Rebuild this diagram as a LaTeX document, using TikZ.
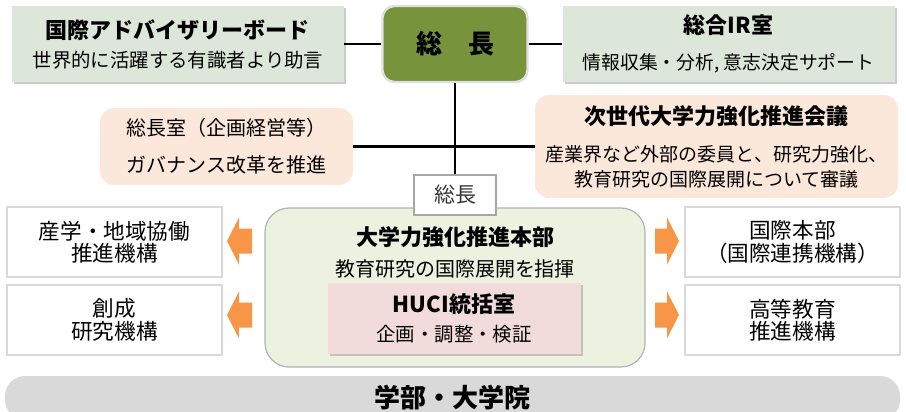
\documentclass[tikz,border=0pt]{standalone}
\usepackage{fontspec}
\setmainfont{Noto Sans CJK JP}
\usetikzlibrary{shadows}

\definecolor{boardgreen}{RGB}{221,231,217}
\definecolor{chiefgreen}{RGB}{119,147,60}
\definecolor{peach}{RGB}{252,232,218}
\definecolor{hqgreen}{RGB}{236,241,224}
\definecolor{hucipink}{RGB}{242,220,219}
\definecolor{arroworange}{RGB}{247,150,70}
\definecolor{bargray}{RGB}{217,217,217}

\newcommand{\boxtitle}[1]{{\bfseries\fontsize{11pt}{11pt}\selectfont #1}}

\tikzset{
  box/.style={inner sep=0pt, align=center, font=\fontsize{9.7pt}{14.5pt}\selectfont},
  boardbox/.style={box, fill=boardgreen, minimum width=166pt, minimum height=38pt,
    drop shadow={shadow xshift=1.2pt, shadow yshift=-1.2pt, opacity=0.4}},
  chiefbox/.style={box, fill=chiefgreen, draw=black!12, line width=1.2pt, rounded corners=6pt,
    minimum width=72.5pt, minimum height=38pt, font=\bfseries\fontsize{13pt}{13pt}\selectfont},
  peachbox/.style={box, fill=peach, rounded corners=7pt},
  hqbox/.style={box, fill=hqgreen, draw=black!30, line width=0.6pt, rounded corners=12pt,
    minimum width=190pt, minimum height=79.5pt},
  tagbox/.style={box, fill=white, draw=black!35, line width=0.6pt, minimum width=41pt,
    minimum height=20pt, font=\fontsize{10.5pt}{10.5pt}\selectfont, text=black!80},
  hucibox/.style={box, fill=hucipink, minimum width=126.5pt, minimum height=35.5pt,
    drop shadow={shadow xshift=1.2pt, shadow yshift=-1.2pt, opacity=0.4}},
  sidebox/.style={box, fill=white, draw=black!15, line width=0.6pt, minimum width=107.5pt,
    minimum height=35pt, font=\fontsize{10.8pt}{11.2pt}\selectfont},
  facultybar/.style={box, fill=bargray, rounded corners=10pt, minimum width=447.5pt,
    minimum height=22pt, font=\bfseries\fontsize{13pt}{13pt}\selectfont},
  link/.style={line width=1.3pt, black},
  blockarrow/.style={fill=arroworange}
}

\begin{document}
\begin{tikzpicture}[x=0.5pt, y=-0.5pt]
  \useasboundingbox (0,0) rectangle (906,412);

  \node[boardbox] (adv) at (178,44) {\boxtitle{国際アドバイザリーボード}\\世界的に活躍する有識者より助言};
  \node[chiefbox] (chief) at (455,44) {総\quad 長};
  \node[boardbox, font=\fontsize{9.4pt}{18pt}\selectfont] (ir) at (728.5,44) {\boxtitle{総合IR室}\\情報収集・分析, 意志決定サポート};

  \node[peachbox, minimum width=126.5pt, minimum height=38.5pt, font=\fontsize{10pt}{18.5pt}\selectfont]
    (office) at (226.5,146.5) {総長室（企画経営等）\\ガバナンス改革を推進};
  \node[peachbox, minimum width=181.5pt, minimum height=51.5pt, font=\fontsize{9.5pt}{12.5pt}\selectfont]
    (council) at (716.5,146.5) {\boxtitle{次世代大学力強化推進会議}\\[6pt]産業界など外部の委員と、研究力強化、\\教育研究の国際展開について審議};

  \node[hqbox] (hq) at (455,287.5) {};
  \node[box, font=\fontsize{10pt}{15.5pt}\selectfont] (hqtext) at (455,252.5) {\boxtitle{大学力強化推進本部}\\教育研究の国際展開を指揮};
  \node[tagbox] (tag) at (455,195) {総長};
  \node[hucibox] (huci) at (454,318) {\boxtitle{HUCI統括室}\\企画・調整・検証};

  \node[sidebox] (coop) at (114.5,242) {産学・地域協働\\推進機構};
  \node[sidebox] (create) at (114.5,320) {創成\\研究機構};
  \node[sidebox] (intl) at (792.5,242) {国際本部\\（国際連携機構）};
  \node[sidebox] (edu) at (792.5,320) {高等教育\\推進機構};

  \node[facultybar] (faculty) at (452.5,398) {学部・大学院};

  \draw[link] (adv) -- (chief);
  \draw[link] (chief) -- (ir);
  \draw[link] (chief) -- (tag);
  \draw[link] (office) -- (council);

  \foreach \ay in {241,315} {
    \fill[blockarrow] (252,\ay-12.5) -- (239,\ay-12.5) -- (239,\ay-23.5) -- (227,\ay)
      -- (239,\ay+23.5) -- (239,\ay+12.5) -- (252,\ay+12.5) -- cycle;
    \fill[blockarrow] (655,\ay-12.5) -- (667,\ay-12.5) -- (667,\ay-23.5) -- (679,\ay)
      -- (667,\ay+23.5) -- (667,\ay+12.5) -- (655,\ay+12.5) -- cycle;
  }
\end{tikzpicture}
\end{document}
